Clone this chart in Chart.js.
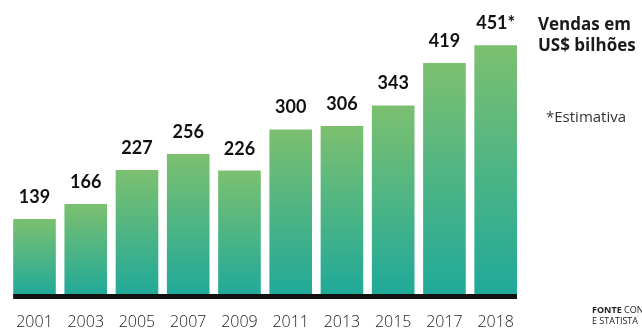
<!DOCTYPE html>
<html>
<head>
<meta charset="utf-8">
<script src="https://cdn.jsdelivr.net/npm/chart.js@4.4.0/dist/chart.umd.min.js"></script>
<style>
html,body{margin:0;padding:0;background:#fff;}
#wrap{position:relative;width:642px;height:330px;}
canvas{display:block;}
</style>
</head>
<body>
<div id="wrap"><canvas id="c" width="642" height="330"></canvas></div>
<script>
const years = ['2001','2003','2005','2007','2009','2011','2013','2015','2017','2018'];
const sales = [139,166,227,256,226,300,306,343,419,451];
const labelSuffix = ['','','','','','','','','','*'];
const titleLines = ['Vendas em','US$ bilhões'];
const noteText = '*Estimativa';
const sourceLines = [['FONTE',' CONSUMER TECHNOLOGY ASSOCIATION'],['','E STATISTA']];

const TOP_COLOR = '#7cc06f';
const BOTTOM_COLOR = '#1fa99a';

const barGradient = (ctx) => {
  const chart = ctx.chart;
  if (!chart.chartArea || ctx.type !== 'data') return TOP_COLOR;
  const ys = chart.scales.y;
  const top = ys.getPixelForValue(ctx.raw);
  const base = ys.getPixelForValue(0);
  const g = chart.ctx.createLinearGradient(0, top, 0, base);
  g.addColorStop(0, TOP_COLOR);
  g.addColorStop(1, BOTTOM_COLOR);
  return g;
};

const decor = {
  id: 'decor',
  afterDatasetsDraw(chart) {
    const c = chart.ctx;
    const meta = chart.getDatasetMeta(0);
    c.save();
    const first = meta.data[0], last = meta.data[meta.data.length - 1];
    const x0 = first.x - first.width / 2, x1 = last.x + last.width / 2;
    const yb = chart.scales.y.getPixelForValue(0);
    c.fillStyle = '#111';
    c.fillRect(x0, yb - 2.5, x1 - x0, 5);
    c.font = 'bold 18px Lato, "Open Sans", sans-serif';
    c.textAlign = 'center';
    c.textBaseline = 'alphabetic';
    c.fillStyle = '#111';
    meta.data.forEach((el, i) => {
      c.fillText(String(sales[i]) + labelSuffix[i], el.x, el.y - 16);
    });
    c.textAlign = 'left';
    c.font = 'bold 17px "Open Sans", sans-serif';
    c.fillStyle = '#1a1a1a';
    titleLines.forEach((t, i) => c.fillText(t, 538, 30 + i * 21));
    c.font = '15px "Open Sans", sans-serif';
    c.fillStyle = '#333';
    c.fillText(noteText, 546, 122);
    sourceLines.forEach((parts, i) => {
      let x = 592;
      const y = 313 + i * 11;
      c.font = 'bold 9px "Open Sans", sans-serif';
      c.fillStyle = '#222';
      c.fillText(parts[0], x, y);
      x += c.measureText(parts[0]).width;
      c.font = '9px "Open Sans", sans-serif';
      c.fillText(parts[1], x, y);
    });
    c.restore();
  }
};

new Chart(document.getElementById('c'), {
  type: 'bar',
  data: {
    labels: years,
    datasets: [{
      data: sales,
      backgroundColor: barGradient,
      borderWidth: 0,
      barPercentage: 0.832,
      categoryPercentage: 1.0
    }]
  },
  options: {
    responsive: false,
    animation: false,
    layout: { padding: { left: 4.7, right: 120.7, top: 18, bottom: 0 } },
    plugins: { legend: { display: false }, tooltip: { enabled: false } },
    scales: {
      x: {
        grid: { display: false, drawTicks: false },
        border: { display: false },
        ticks: {
          font: { family: '"Open Sans", sans-serif', size: 16, weight: '300' },
          color: '#222',
          padding: 16,
          maxRotation: 0,
          autoSkip: false
        },
        afterFit(s) { s.height = 33.5; }
      },
      y: {
        display: false,
        min: 0,
        max: 500
      }
    }
  },
  plugins: [decor]
});
</script>
</body>
</html>
